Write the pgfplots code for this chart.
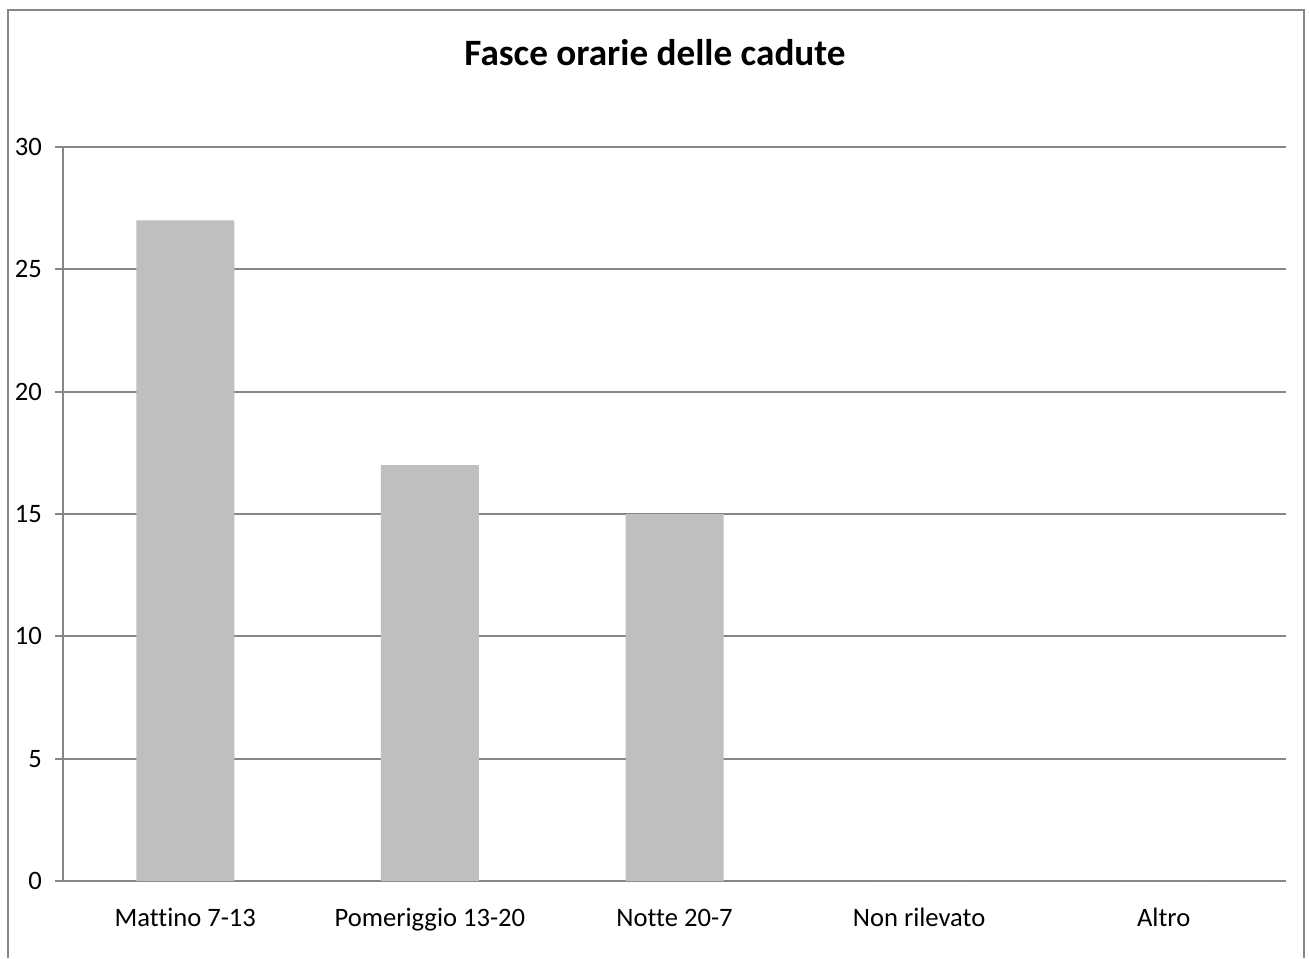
\documentclass[border=0pt]{standalone}
\usepackage{fontspec}
\setmainfont[Ligatures=NoCommon]{Carlito}
\usepackage{pgfplots}
\pgfplotsset{compat=1.18}
\definecolor{gridgray}{HTML}{868686}
\definecolor{bargray}{HTML}{BFBFBF}
\begin{document}
\begin{tikzpicture}
\useasboundingbox (0,0) rectangle (654.5pt,479pt);
\draw[gridgray, line width=1pt] (4pt,0pt) -- (4pt,474pt) -- (652pt,474pt) -- (652pt,0pt);
\node[font=\fontsize{18.6}{22}\selectfont\bfseries] at (327.5pt,452.5pt) {Fasce orarie delle cadute};
\begin{axis}[
  at={(31.5pt,38.5pt)}, anchor=south west,
  scale only axis, width=611.5pt, height=367pt,
  xmin=-0.5, xmax=4.5, ymin=0, ymax=30,
  axis x line=bottom, axis y line=left,
  axis line style={-, gridgray, line width=1pt},
  ytick={0,5,...,30},
  ymajorgrids, grid style={gridgray, line width=1pt},
  tick align=outside,
  major tick length=4pt,
  tick style={gridgray, line width=1pt},
  xtick={0,1,2,3,4},
  xticklabels={Mattino 7-13, Pomeriggio 13-20, Notte 20-7, Non rilevato, Altro},
  x tick style={draw=none},
  extra x ticks={-0.5,0.5,1.5,2.5,3.5,4.5},
  extra x tick labels={},
  extra x tick style={tick style={draw=gridgray, line width=1pt}, major tick length=3pt, grid=none},
  ticklabel style={font=\fontsize{13.3}{16}\selectfont, text=black},
  /pgf/number format/assume math mode=true,
  xticklabel style={yshift=-5pt, text height=10pt, text depth=3pt, anchor=north},
  yticklabel style={xshift=-3pt},
]
\addplot[ybar, bar width=49pt, fill=bargray, draw=none] coordinates {(0,27) (1,17) (2,15) (3,0) (4,0)};
\end{axis}
\end{tikzpicture}
\end{document}
